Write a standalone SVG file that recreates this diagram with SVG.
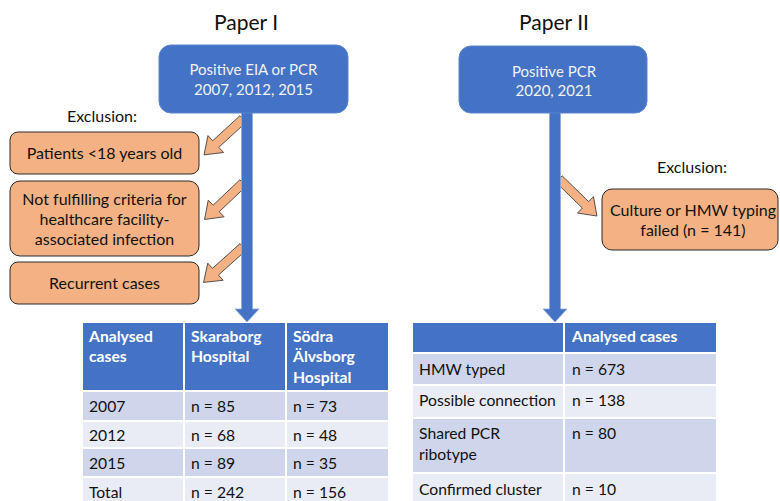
<svg xmlns="http://www.w3.org/2000/svg" width="780" height="501" viewBox="0 0 780 501">
<defs>
<style>
text{font-family:Lato,"Liberation Sans",sans-serif;fill:#111}
.title{font-size:21px;text-anchor:middle}
.bt{font-size:15px;fill:#f2f2f2;text-anchor:middle}
.ot{font-size:16px;text-anchor:middle}
.ex{font-size:16px;text-anchor:middle}
.blue{fill:#4472c4}
.bbox{fill:#4472c4;stroke:#5a84cc;stroke-width:1}
.obox{fill:#f4b183;stroke:#2b2b2b;stroke-width:1}
.oarr{fill:#f4b183;stroke:#3a3a3a;stroke-width:0.8}
.hd{fill:#4472c4}
.r1{fill:#cfd5ea}
.r2{fill:#e9ebf5}
.th{font-size:15.7px;font-weight:bold;fill:#fff}
.td{font-size:15.7px}
.grid{stroke:#fff;stroke-width:2}
</style>
<path id="arr" d="M0,-4.5 L37,-4.5 L37,-11.5 L53,0 L37,11.5 L37,4.5 L0,4.5 Z"/>
</defs>
<rect width="780" height="501" fill="#fff"/>

<text class="title" x="246" y="30">Paper I</text>
<text class="title" x="554" y="30">Paper II</text>

<g id="connectors">
<use href="#arr" class="oarr" transform="translate(243,119) rotate(137.4)"/>
<use href="#arr" class="oarr" transform="translate(243,183) rotate(136.5)"/>
<use href="#arr" class="oarr" transform="translate(243,247) rotate(138.1)"/>
<use href="#arr" class="oarr" transform="translate(559,179) rotate(44.3)"/>
<path class="blue" d="M241.5,112 H252.5 V309 H259 L247,322 L235,309 H241.5 Z" stroke="#8fa9dc" stroke-width="0.8"/>
<path class="blue" d="M549.5,112 H560.5 V309 H567 L555,322 L543,309 H549.5 Z" stroke="#8fa9dc" stroke-width="0.8"/>
</g>

<g id="start1">
<rect class="bbox" x="159" y="45" width="189" height="68" rx="12"/>
<text class="bt" x="253.5" y="75">Positive EIA or PCR</text>
<text class="bt" x="253.5" y="95">2007, 2012, 2015</text>
</g>
<g id="start2">
<rect class="bbox" x="459" y="46" width="188" height="67" rx="12"/>
<text class="bt" x="554" y="77">Positive PCR</text>
<text class="bt" x="554" y="96">2020, 2021</text>
</g>

<g id="exclusion1-label"><text class="ex" x="102" y="122">Exclusion:</text></g>
<g id="excl-age">
<rect class="obox" x="10" y="132" width="189" height="42" rx="8"/>
<text class="ot" x="104.5" y="159">Patients &lt;18 years old</text>
</g>
<g id="excl-criteria">
<rect class="obox" x="10" y="181" width="189" height="75" rx="10"/>
<text class="ot" x="104.5" y="205">Not fulfilling criteria for</text>
<text class="ot" x="104.5" y="225">healthcare facility-</text>
<text class="ot" x="104.5" y="245">associated infection</text>
</g>
<g id="excl-recurrent">
<rect class="obox" x="10" y="262" width="189" height="42" rx="8"/>
<text class="ot" x="104.5" y="289">Recurrent cases</text>
</g>

<g id="exclusion2-label"><text class="ex" x="692" y="173">Exclusion:</text></g>
<g id="excl-culture">
<rect class="obox" x="602" y="189" width="176" height="61" rx="10"/>
<text class="ot" x="693" y="216">Culture or HMW typing</text>
<text class="ot" x="693" y="236">failed (n = 141)</text>
</g>

<g id="table1">
<rect class="hd" x="83" y="323" width="305" height="68"/>
<rect class="r1" x="83" y="391" width="305" height="30"/>
<rect class="r2" x="83" y="421" width="305" height="27"/>
<rect class="r1" x="83" y="448" width="305" height="29"/>
<rect class="r2" x="83" y="477" width="305" height="24"/>
<g class="grid">
<line x1="184" y1="323" x2="184" y2="501"/>
<line x1="286" y1="323" x2="286" y2="501"/>
<line x1="83" y1="391" x2="388" y2="391"/>
<line x1="83" y1="421" x2="388" y2="421"/>
<line x1="83" y1="448" x2="388" y2="448"/>
<line x1="83" y1="477" x2="388" y2="477"/>
</g>
<text class="th" x="89" y="342">Analysed</text>
<text class="th" x="89" y="362">cases</text>
<text class="th" x="191" y="342">Skaraborg</text>
<text class="th" x="191" y="362">Hospital</text>
<text class="th" x="293" y="342">Södra</text>
<text class="th" x="293" y="362">Älvsborg</text>
<text class="th" x="293" y="383">Hospital</text>
<text class="td" x="89" y="412">2007</text>
<text class="td" x="191" y="412">n = 85</text>
<text class="td" x="293" y="412">n = 73</text>
<text class="td" x="89" y="441">2012</text>
<text class="td" x="191" y="441">n = 68</text>
<text class="td" x="293" y="441">n = 48</text>
<text class="td" x="89" y="469">2015</text>
<text class="td" x="191" y="469">n = 89</text>
<text class="td" x="293" y="469">n = 35</text>
<text class="td" x="89" y="498">Total</text>
<text class="td" x="191" y="498">n = 242</text>
<text class="td" x="293" y="498">n = 156</text>
</g>

<g id="table2">
<rect class="hd" x="413" y="323" width="303" height="30"/>
<rect class="r1" x="413" y="353" width="303" height="32"/>
<rect class="r2" x="413" y="385" width="303" height="33"/>
<rect class="r1" x="413" y="418" width="303" height="55"/>
<rect class="r2" x="413" y="473" width="303" height="28"/>
<g class="grid">
<line x1="564" y1="323" x2="564" y2="501"/>
<line x1="413" y1="353" x2="716" y2="353"/>
<line x1="413" y1="385" x2="716" y2="385"/>
<line x1="413" y1="418" x2="716" y2="418"/>
<line x1="413" y1="473" x2="716" y2="473"/>
</g>
<text class="th" x="572" y="342">Analysed cases</text>
<text class="td" x="419" y="375">HMW typed</text>
<text class="td" x="572" y="375">n = 673</text>
<text class="td" x="419" y="406">Possible connection</text>
<text class="td" x="572" y="406">n = 138</text>
<text class="td" x="419" y="439">Shared PCR</text>
<text class="td" x="419" y="460">ribotype</text>
<text class="td" x="572" y="439">n = 80</text>
<text class="td" x="419" y="495">Confirmed cluster</text>
<text class="td" x="572" y="495">n = 10</text>
</g>
</svg>
